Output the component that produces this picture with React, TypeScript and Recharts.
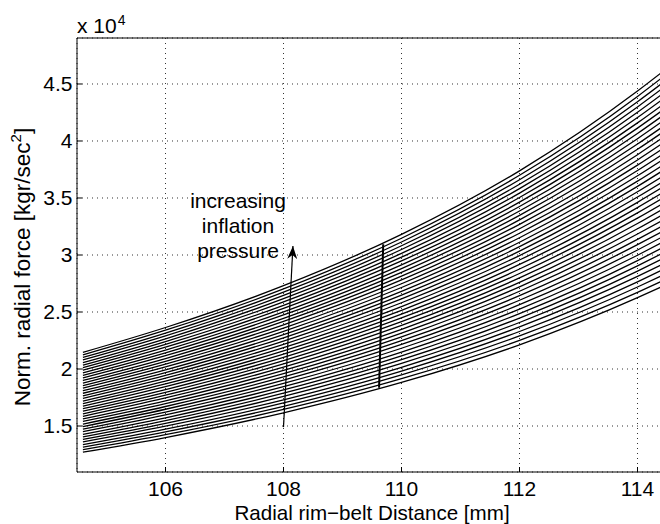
import React from 'react';
import { LineChart, Line, XAxis, YAxis, CartesianGrid, Label } from 'recharts';

// radial rim-belt distance [mm] where each curve was sampled
const distanceMm = [104.6, 106, 108, 110, 112, 114, 114.4];

// one row per inflation pressure (low -> high), normalised radial force [kgr/sec^2]
const forceCurves = [
  [12700, 13990, 16160, 18820, 22120, 26260, 27200],
  [12920, 14240, 16450, 19150, 22510, 26720, 27680],
  [13150, 14490, 16730, 19490, 22900, 27190, 28160],
  [13370, 14730, 17020, 19820, 23290, 27650, 28640],
  [13600, 14980, 17300, 20150, 23690, 28120, 29120],
  [13820, 15230, 17590, 20490, 24080, 28580, 29610],
  [14050, 15480, 17880, 20820, 24470, 29050, 30090],
  [14270, 15720, 18160, 21150, 24860, 29510, 30570],
  [14500, 15970, 18450, 21480, 25250, 29980, 31050],
  [14720, 16220, 18730, 21820, 25640, 30440, 31530],
  [14950, 16470, 19020, 22150, 26030, 30910, 32010],
  [15170, 16710, 19300, 22480, 26430, 31370, 32490],
  [15400, 16960, 19590, 22820, 26820, 31840, 32970],
  [15620, 17210, 19880, 23150, 27210, 32300, 33460],
  [15850, 17460, 20160, 23480, 27600, 32760, 33940],
  [16070, 17700, 20450, 23820, 27990, 33230, 34420],
  [16300, 17950, 20730, 24150, 28380, 33690, 34900],
  [16520, 18200, 21020, 24480, 28770, 34160, 35380],
  [16740, 18450, 21310, 24810, 29170, 34620, 35860],
  [16970, 18690, 21590, 25150, 29560, 35090, 36340],
  [17190, 18940, 21880, 25480, 29950, 35550, 36820],
  [17420, 19190, 22160, 25810, 30340, 36020, 37310],
  [17640, 19440, 22450, 26150, 30730, 36480, 37790],
  [17870, 19680, 22740, 26480, 31120, 36950, 38270],
  [18090, 19930, 23020, 26810, 31510, 37410, 38750],
  [18320, 20180, 23310, 27150, 31910, 37880, 39230],
  [18540, 20430, 23590, 27480, 32300, 38340, 39710],
  [18770, 20670, 23880, 27810, 32690, 38800, 40190],
  [18990, 20920, 24170, 28140, 33080, 39270, 40670],
  [19220, 21170, 24450, 28480, 33470, 39730, 41150],
  [19440, 21420, 24740, 28810, 33860, 40200, 41640],
  [19670, 21660, 25020, 29140, 34250, 40660, 42120],
  [19890, 21910, 25310, 29480, 34640, 41130, 42600],
  [20120, 22160, 25590, 29810, 35040, 41590, 43080],
  [20340, 22410, 25880, 30140, 35430, 42060, 43560],
  [20560, 22650, 26170, 30480, 35820, 42520, 44040],
  [20790, 22900, 26450, 30810, 36210, 42990, 44520],
  [21010, 23150, 26740, 31140, 36600, 43450, 45000],
  [21240, 23400, 27020, 31470, 36990, 43910, 45490],
  [21460, 23640, 27310, 31810, 37380, 44380, 45970],
];

// thick line across the family
const ridgeDistance = [109.62, 109.69];
const ridgeForce = [18350, 30950];

// "increasing inflation pressure" arrow
const arrowDistance = [108.0, 108.16];
const arrowForce = [14900, 30790];

const xTicks = [106, 108, 110, 112, 114];
const yTicks = [15000, 20000, 25000, 30000, 35000, 40000, 45000];
const annotationLines = ['increasing', 'inflation', 'pressure'];

const FONT = '"Liberation Sans", Arial, Helvetica, sans-serif';

const toPoints = (xs: number[], ys: number[]) => xs.map((d, i) => ({ d, f: ys[i] }));

const YLabel = ({ viewBox }: any) => {
  const bx = 30;
  const cy = viewBox ? viewBox.y + viewBox.height / 2 + 12 : 267;
  return (
    <text
      x={bx}
      y={cy}
      transform={`rotate(-90 ${bx} ${cy})`}
      textAnchor="middle"
      fontSize={22.5}
      fontFamily={FONT}
      fill="#000"
    >
      Norm. radial force [kgr/sec
      <tspan dy={-9} fontSize={15}>2</tspan>
      <tspan dy={9}>]</tspan>
    </text>
  );
};

export default function App() {
  const tickStyle = { fill: '#000', fontSize: 21, fontFamily: FONT };
  return (
    <div
      style={{
        position: 'absolute',
        left: 0,
        top: 0,
        width: 660,
        height: 524,
        overflow: 'hidden',
        background: '#fff',
      }}
    >
      <LineChart width={672} height={524} margin={{ top: 37, right: 5, bottom: 0, left: 0 }}>
        <defs>
          <marker
            id="arrowHead"
            markerWidth={13}
            markerHeight={10}
            refX={13}
            refY={5}
            orient="auto"
            markerUnits="userSpaceOnUse"
          >
            <path d="M0,0 L13,5 L0,10 L4,5 Z" fill="#000" />
          </marker>
        </defs>
        <CartesianGrid stroke="#333" strokeDasharray="1 4" />
        <XAxis
          dataKey="d"
          type="number"
          domain={[104.5, 114.5]}
          ticks={xTicks}
          height={52}
          tickSize={-5}
          tickMargin={14.5}
          tick={tickStyle}
          stroke="#000"
        >
          <Label
            value="Radial rim−belt Distance [mm]"
            position="insideBottom"
            offset={4.5}
            style={{ fill: '#000', fontSize: 20.6, fontFamily: FONT }}
          />
        </XAxis>
        <XAxis
          xAxisId="top"
          orientation="top"
          type="number"
          domain={[104.5, 114.5]}
          ticks={xTicks}
          height={1}
          tickSize={-5}
          tickFormatter={() => ''}
          stroke="#000"
        />
        <YAxis
          type="number"
          domain={[10965, 49035]}
          ticks={yTicks}
          width={77}
          tickSize={-5}
          tickMargin={9.5}
          tick={tickStyle}
          tickFormatter={(v: number) => `${v / 10000}`}
          stroke="#000"
        >
          <Label content={YLabel} />
        </YAxis>
        {forceCurves.map((row, k) => (
          <Line
            key={`p${k}`}
            data={toPoints(distanceMm, row)}
            dataKey="f"
            type="monotone"
            stroke="#000"
            strokeWidth={1.3}
            dot={false}
            activeDot={false}
            isAnimationActive={false}
          />
        ))}
        <Line
          data={toPoints(ridgeDistance, ridgeForce)}
          dataKey="f"
          type="linear"
          stroke="#000"
          strokeWidth={2}
          dot={false}
          activeDot={false}
          isAnimationActive={false}
        />
        <Line
          data={toPoints(arrowDistance, arrowForce)}
          dataKey="f"
          type="linear"
          stroke="#000"
          strokeWidth={1.2}
          dot={false}
          activeDot={false}
          markerEnd="url(#arrowHead)"
          isAnimationActive={false}
        />
      </LineChart>
      <svg
        width={660}
        height={524}
        style={{ position: 'absolute', left: 0, top: 0, pointerEvents: 'none' }}
        fontFamily={FONT}
        fill="#000"
      >
        <text x={77} y={32.5} fontSize={21}>
          x 10
          <tspan dx={1} dy={-8} fontSize={14}>4</tspan>
        </text>
        {annotationLines.map((t, i) => (
          <text key={t} x={238} y={208 + i * 25} fontSize={21} textAnchor="middle">
            {t}
          </text>
        ))}
      </svg>
    </div>
  );
}
